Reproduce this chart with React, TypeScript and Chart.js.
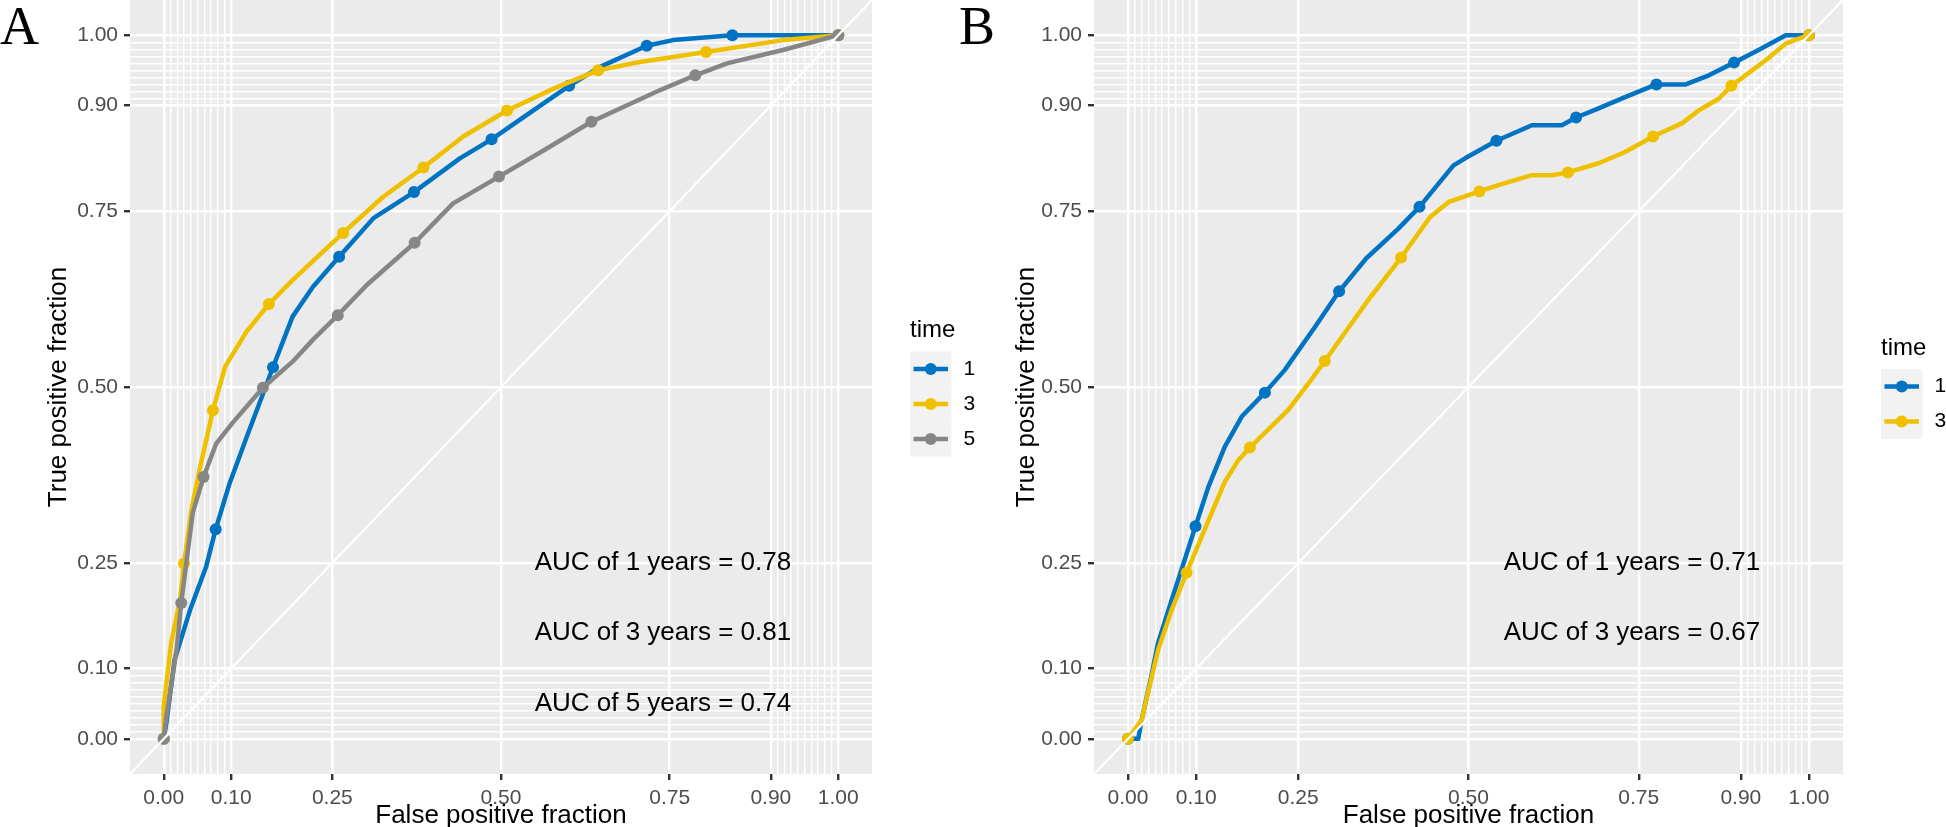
import React, { useEffect, useRef } from 'react';
import { Chart, registerables } from 'chart.js';

Chart.register(...registerables);

const FONT = '"Liberation Sans", Arial, Helvetica, sans-serif';
const BLUE = '#0073C2';
const YELLOW = '#EFC000';
const GREY = '#868686';

// axis breaks (plotROC style)
const MAJOR_BREAKS = [0, 0.1, 0.25, 0.5, 0.75, 0.9, 1];
const MINOR_BREAKS = [0.01, 0.02, 0.03, 0.04, 0.05, 0.06, 0.07, 0.08, 0.09, 0.91, 0.92, 0.93, 0.94, 0.95, 0.96, 0.97, 0.98, 0.99];
const AXIS_MIN = -0.05;
const AXIS_MAX = 1.05;
const DIAG = [-0.05, 1.05];

// legend
const LEGEND_TITLE = 'time';
const TIME_LABELS = ['1', '3', '5'];

// ---------------- Panel A ----------------
const A1_FPR = [0, 0.004, 0.016, 0.039, 0.063, 0.077, 0.098, 0.123, 0.162, 0.191, 0.221, 0.26, 0.311, 0.371, 0.439, 0.486, 0.548, 0.601, 0.647, 0.716, 0.755, 0.843, 1];
const A1_TPR = [0, 0.023, 0.112, 0.183, 0.245, 0.298, 0.364, 0.429, 0.528, 0.6, 0.642, 0.685, 0.74, 0.777, 0.825, 0.852, 0.893, 0.928, 0.955, 0.985, 0.993, 1, 1];
const A1_CUT_FPR = [0, 0.077, 0.162, 0.26, 0.371, 0.486, 0.601, 0.716, 0.843, 1];
const A1_CUT_TPR = [0, 0.298, 0.528, 0.685, 0.777, 0.852, 0.928, 0.985, 1, 1];

const A3_FPR = [0, 0, 0.011, 0.024, 0.03, 0.041, 0.053, 0.073, 0.091, 0.123, 0.156, 0.191, 0.266, 0.325, 0.385, 0.444, 0.509, 0.578, 0.644, 0.706, 0.804, 0.918, 1];
const A3_TPR = [0, 0.046, 0.136, 0.197, 0.249, 0.325, 0.382, 0.467, 0.529, 0.579, 0.618, 0.652, 0.719, 0.77, 0.812, 0.856, 0.893, 0.924, 0.95, 0.962, 0.976, 0.993, 1];
const A3_CUT_FPR = [0, 0.03, 0.073, 0.156, 0.266, 0.385, 0.509, 0.644, 0.804, 1];
const A3_CUT_TPR = [0, 0.249, 0.467, 0.618, 0.719, 0.812, 0.893, 0.95, 0.976, 1];

const A5_FPR = [0, 0.004, 0.019, 0.026, 0.034, 0.043, 0.059, 0.078, 0.102, 0.147, 0.191, 0.221, 0.258, 0.301, 0.372, 0.429, 0.497, 0.568, 0.634, 0.736, 0.788, 0.835, 0.918, 1];
const A5_TPR = [0, 0.032, 0.126, 0.193, 0.254, 0.321, 0.372, 0.42, 0.449, 0.499, 0.536, 0.567, 0.602, 0.645, 0.705, 0.761, 0.799, 0.839, 0.877, 0.922, 0.943, 0.96, 0.979, 1];
const A5_CUT_FPR = [0, 0.026, 0.059, 0.147, 0.258, 0.372, 0.497, 0.634, 0.788, 1];
const A5_CUT_TPR = [0, 0.193, 0.372, 0.499, 0.602, 0.705, 0.799, 0.877, 0.943, 1];

const A_AUC_TEXT = ['AUC of 1 years = 0.78', 'AUC of 3 years = 0.81', 'AUC of 5 years = 0.74'];

// ---------------- Panel B ----------------
const B1_FPR = [0, 0.015, 0.02, 0.034, 0.044, 0.064, 0.099, 0.118, 0.142, 0.167, 0.201, 0.23, 0.275, 0.31, 0.35, 0.397, 0.428, 0.478, 0.495, 0.541, 0.593, 0.637, 0.658, 0.691, 0.73, 0.776, 0.819, 0.853, 0.89, 0.926, 0.966, 1];
const B1_TPR = [0, 0, 0.027, 0.088, 0.136, 0.197, 0.302, 0.358, 0.415, 0.458, 0.492, 0.524, 0.586, 0.636, 0.683, 0.725, 0.756, 0.815, 0.825, 0.85, 0.872, 0.872, 0.883, 0.896, 0.912, 0.93, 0.93, 0.943, 0.961, 0.979, 1, 1];
const B1_CUT_FPR = [0, 0.099, 0.201, 0.31, 0.428, 0.541, 0.658, 0.776, 0.89, 1];
const B1_CUT_TPR = [0, 0.302, 0.492, 0.636, 0.756, 0.85, 0.883, 0.93, 0.961, 1];

const B3_FPR = [0, 0.02, 0.044, 0.064, 0.086, 0.108, 0.142, 0.162, 0.179, 0.235, 0.265, 0.289, 0.314, 0.353, 0.401, 0.444, 0.471, 0.516, 0.544, 0.593, 0.623, 0.646, 0.691, 0.73, 0.771, 0.814, 0.838, 0.868, 0.886, 0.936, 0.966, 0.985, 1];
const B3_TPR = [0, 0.027, 0.126, 0.183, 0.236, 0.287, 0.365, 0.396, 0.414, 0.467, 0.505, 0.537, 0.571, 0.624, 0.684, 0.742, 0.763, 0.778, 0.787, 0.801, 0.801, 0.805, 0.818, 0.834, 0.856, 0.875, 0.893, 0.91, 0.928, 0.964, 0.988, 0.995, 1];
const B3_CUT_FPR = [0, 0.086, 0.179, 0.289, 0.401, 0.516, 0.646, 0.771, 0.886, 1];
const B3_CUT_TPR = [0, 0.236, 0.414, 0.537, 0.684, 0.778, 0.805, 0.856, 0.928, 1];

const B_AUC_TEXT = ['AUC of 1 years = 0.71', 'AUC of 3 years = 0.67'];

const AUC_X = 0.74;
const AUC_Y = [0.25, 0.15, 0.05];

type Series = {
  label: string;
  color: string;
  fpr: number[];
  tpr: number[];
  cutFpr: number[];
  cutTpr: number[];
};

const SERIES_A: Series[] = [
  { label: TIME_LABELS[0], color: BLUE, fpr: A1_FPR, tpr: A1_TPR, cutFpr: A1_CUT_FPR, cutTpr: A1_CUT_TPR },
  { label: TIME_LABELS[1], color: YELLOW, fpr: A3_FPR, tpr: A3_TPR, cutFpr: A3_CUT_FPR, cutTpr: A3_CUT_TPR },
  { label: TIME_LABELS[2], color: GREY, fpr: A5_FPR, tpr: A5_TPR, cutFpr: A5_CUT_FPR, cutTpr: A5_CUT_TPR },
];
const SERIES_B: Series[] = [
  { label: TIME_LABELS[0], color: BLUE, fpr: B1_FPR, tpr: B1_TPR, cutFpr: B1_CUT_FPR, cutTpr: B1_CUT_TPR },
  { label: TIME_LABELS[1], color: YELLOW, fpr: B3_FPR, tpr: B3_TPR, cutFpr: B3_CUT_FPR, cutTpr: B3_CUT_TPR },
];

const zip = (xs: number[], ys: number[]) => xs.map((x, i) => ({ x, y: ys[i] }));
const isMajor = (v: number) => MAJOR_BREAKS.some((m) => Math.abs(m - v) < 1e-9);
const ALL_BREAKS = [...MAJOR_BREAKS, ...MINOR_BREAKS].sort((a, b) => a - b);

const CANVAS_TOP = -6;
const CANVAS_H = 833;

const bgPlugin = {
  id: 'panelBg',
  beforeDraw(chart: any) {
    const { ctx, chartArea } = chart;
    ctx.save();
    ctx.fillStyle = '#EBEBEB';
    ctx.fillRect(chartArea.left, chartArea.top, chartArea.right - chartArea.left, chartArea.bottom - chartArea.top);
    ctx.restore();
  },
};

const aucPlugin = {
  id: 'aucText',
  afterDatasetsDraw(chart: any, _args: any, opts: any) {
    const { ctx } = chart;
    const xs = chart.scales.x;
    const ys = chart.scales.y;
    ctx.save();
    ctx.fillStyle = '#000000';
    ctx.font = `26px ${FONT}`;
    ctx.textAlign = 'center';
    ctx.textBaseline = 'middle';
    (opts.texts || []).forEach((t: string, i: number) => {
      ctx.fillText(t, xs.getPixelForValue(opts.x), ys.getPixelForValue(opts.y[i]));
    });
    ctx.restore();
  },
};

const legendPlugin = {
  id: 'rocLegend',
  afterDraw(chart: any, _args: any, opts: any) {
    const { ctx, chartArea } = chart;
    const items = opts.items || [];
    const n = items.length;
    const cy = (chartArea.top + chartArea.bottom) / 2;
    const keyLeft = chartArea.right + 38;
    const keyW = 41.5;
    const rowH = 35;
    const keysTop = cy - (n * rowH) / 2 + 17;
    ctx.save();
    ctx.fillStyle = '#000000';
    ctx.font = `24px ${FONT}`;
    ctx.textAlign = 'left';
    ctx.textBaseline = 'middle';
    ctx.fillText(opts.title, keyLeft, keysTop - 21);
    items.forEach((it: any, i: number) => {
      const top = keysTop + i * rowH;
      ctx.fillStyle = '#F2F2F2';
      ctx.fillRect(keyLeft, top, keyW, rowH);
      const my = top + rowH / 2;
      ctx.strokeStyle = it.color;
      ctx.lineWidth = 4.5;
      ctx.lineCap = 'butt';
      ctx.beginPath();
      ctx.moveTo(keyLeft + 3.5, my);
      ctx.lineTo(keyLeft + keyW - 3.5, my);
      ctx.stroke();
      ctx.fillStyle = it.color;
      ctx.beginPath();
      ctx.arc(keyLeft + keyW / 2, my, 6, 0, Math.PI * 2);
      ctx.fill();
      ctx.fillStyle = '#000000';
      ctx.font = `21px ${FONT}`;
      ctx.fillText(it.label, keyLeft + keyW + 12, my);
    });
    ctx.restore();
  },
};

function axisOptions(axis: 'x' | 'y', title: string, fitSize: number, titlePad: number) {
  return {
    type: 'linear',
    position: axis === 'x' ? 'bottom' : 'left',
    min: AXIS_MIN,
    max: AXIS_MAX,
    afterBuildTicks: (s: any) => {
      s.ticks = ALL_BREAKS.map((v) => ({ value: v }));
    },
    afterFit: (s: any) => {
      if (axis === 'x') {
        s.height = fitSize;
        s.paddingLeft = 0;
        s.paddingRight = 0;
      } else {
        s.width = fitSize;
        s.paddingTop = 0;
        s.paddingBottom = 0;
      }
    },
    ticks: {
      autoSkip: false,
      maxRotation: 0,
      minRotation: 0,
      padding: 6,
      color: '#4D4D4D',
      font: { family: FONT, size: 21 },
      callback: (v: any) => (isMajor(Number(v)) ? Number(v).toFixed(2) : ''),
    },
    grid: {
      color: '#FFFFFF',
      lineWidth: (c: any) => (c.tick && isMajor(c.tick.value) ? 2.4 : 1.4),
      tickColor: (c: any) => (c.tick && isMajor(c.tick.value) ? '#333333' : 'rgba(0,0,0,0)'),
      tickWidth: 2.4,
      tickLength: 6,
      drawTicks: true,
    },
    border: { display: false },
    title: {
      display: true,
      text: title,
      color: '#000000',
      font: { family: FONT, size: 26, lineHeight: axis === 'x' ? 0.84 : 0.9 },
      padding: axis === 'x' ? { top: 0, bottom: 0 } : { top: titlePad, bottom: 0 },
    },
  };
}

function RocPanel(props: {
  left: number;
  width: number;
  yAxisWidth: number;
  yTitlePad: number;
  series: Series[];
  aucTexts: string[];
}) {
  const ref = useRef<HTMLCanvasElement | null>(null);
  useEffect(() => {
    if (!ref.current) return;
    const n = props.series.length;
    const datasets: any[] = [
      {
        label: 'diag',
        data: zip(DIAG, DIAG),
        showLine: true,
        borderColor: '#FFFFFF',
        borderWidth: 2.2,
        pointRadius: 0,
        order: 0,
        clip: 0,
      },
    ];
    props.series.forEach((s, i) => {
      const base = (n - i) * 2;
      datasets.push({
        label: s.label + ' cut',
        data: zip(s.cutFpr, s.cutTpr),
        showLine: false,
        pointRadius: 6,
        pointHoverRadius: 6,
        pointBackgroundColor: s.color,
        pointBorderWidth: 0,
        pointBorderColor: s.color,
        order: base - 1,
      });
      datasets.push({
        label: s.label,
        data: zip(s.fpr, s.tpr),
        showLine: true,
        borderColor: s.color,
        borderWidth: 4.5,
        pointRadius: 0,
        borderJoinStyle: 'round',
        borderCapStyle: 'round',
        tension: 0,
        order: base,
        clip: 0,
      });
    });
    const chart = new Chart(ref.current, {
      type: 'scatter',
      data: { datasets },
      options: {
        animation: false,
        responsive: false,
        devicePixelRatio: 1,
        events: [],
        layout: { padding: { left: 0, top: 0, bottom: 0, right: 103 } },
        scales: {
          x: axisOptions('x', 'False positive fraction', 53, 0) as any,
          y: axisOptions('y', 'True positive fraction', props.yAxisWidth, props.yTitlePad) as any,
        },
        plugins: {
          legend: { display: false },
          tooltip: { enabled: false },
          aucText: { texts: props.aucTexts, x: AUC_X, y: AUC_Y },
          rocLegend: {
            title: LEGEND_TITLE,
            items: props.series.map((s) => ({ label: s.label, color: s.color })),
          },
        } as any,
      },
      plugins: [bgPlugin, aucPlugin, legendPlugin],
    } as any);
    return () => chart.destroy();
  }, []);
  return (
    <canvas
      ref={ref}
      width={props.width}
      height={CANVAS_H}
      style={{ position: 'absolute', left: props.left, top: CANVAS_TOP, width: props.width, height: CANVAS_H, display: 'block' }}
    />
  );
}

const panelLabelStyle: React.CSSProperties = {
  position: 'absolute',
  top: 0,
  fontFamily: '"Liberation Serif", "Times New Roman", Times, serif',
  fontSize: 54,
  lineHeight: '52px',
  color: '#000',
};

export default function App() {
  return (
    <div style={{ position: 'fixed', left: 0, top: 0, width: 1946, height: 827, background: '#FFFFFF', overflow: 'hidden' }}>
      <RocPanel left={0} width={975} yAxisWidth={130} yTitlePad={47} series={SERIES_A} aucTexts={A_AUC_TEXT} />
      <RocPanel left={975} width={971} yAxisWidth={119} yTitlePad={40} series={SERIES_B} aucTexts={B_AUC_TEXT} />
      <div style={{ ...panelLabelStyle, left: 0 }}>A</div>
      <div style={{ ...panelLabelStyle, left: 959 }}>B</div>
    </div>
  );
}
